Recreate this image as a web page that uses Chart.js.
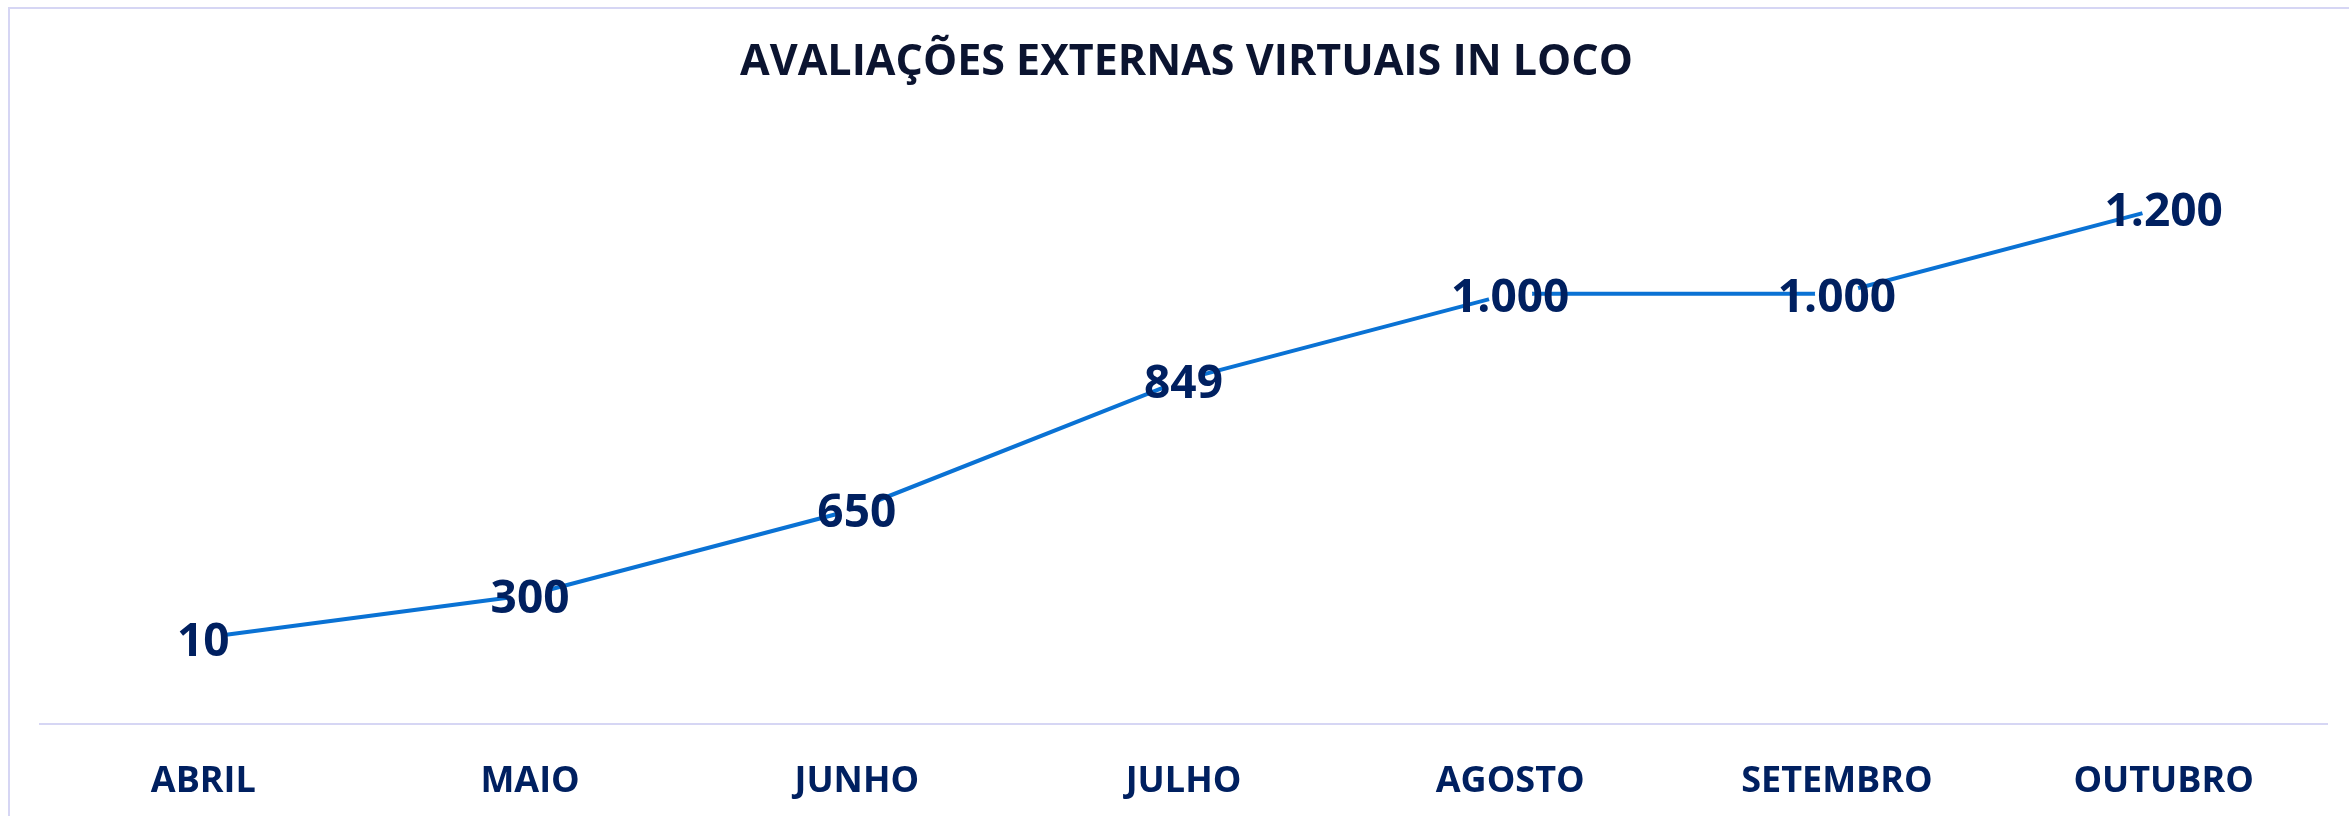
<!DOCTYPE html>
<html>
<head>
<meta charset="utf-8">
<script src="https://cdn.jsdelivr.net/npm/chart.js@4.4.1/dist/chart.umd.min.js"></script>
<style>
  html, body { margin: 0; padding: 0; background: #ffffff; }
  #wrap { position: relative; width: 2349px; height: 816px; }
  canvas { display: block; }
</style>
</head>
<body>
<div id="wrap"><canvas id="c" width="2349" height="816"></canvas></div>
<script>
// ---- data ----
const chartTitle = 'AVALIAÇÕES EXTERNAS VIRTUAIS IN LOCO';
const categories = ['ABRIL', 'MAIO', 'JUNHO', 'JULHO', 'AGOSTO', 'SETEMBRO', 'OUTUBRO'];
// heights of the line's points, read from their positions against the baseline
const plottedValues = [200, 300, 500, 800, 1000, 1000, 1200];
// numbers printed on the points
const labelValues = [10, 300, 650, 849, 1000, 1000, 1200];
const yAxisMin = 0;
const yAxisMax = 1400;

// ---- styles ----
const NAVY = '#002060';
const TITLE_COLOR = '#0b1430';
const LINE_COLOR = '#0a72d4';
const FRAME_COLOR = '#d6d6f4';
const FONT = '"Open Sans", "Noto Sans", "DejaVu Sans", sans-serif';

function fmt(v) {
  return String(v).replace(/\B(?=(\d{3})+(?!\d))/g, '.');
}

const framePlugin = {
  id: 'frame',
  beforeDraw(chart) {
    const ctx = chart.ctx;
    ctx.save();
    ctx.fillStyle = '#ffffff';
    ctx.fillRect(0, 0, chart.width, chart.height);
    ctx.strokeStyle = FRAME_COLOR;
    ctx.lineWidth = 2;
    ctx.beginPath();
    ctx.moveTo(9, chart.height + 2);
    ctx.lineTo(9, 8);
    ctx.lineTo(chart.width + 2, 8);
    ctx.stroke();
    ctx.restore();
  }
};

const pointLabelPlugin = {
  id: 'pointLabels',
  afterDatasetsDraw(chart) {
    const ctx = chart.ctx;
    const meta = chart.getDatasetMeta(0);
    ctx.save();
    ctx.font = 'bold 46px ' + FONT;
    ctx.fillStyle = NAVY;
    ctx.textAlign = 'center';
    ctx.textBaseline = 'alphabetic';
    meta.data.forEach((pt, i) => {
      ctx.fillText(fmt(labelValues[i]), pt.x, pt.y + 18);
    });
    ctx.restore();
  }
};

function build() {
  new Chart(document.getElementById('c'), {
    type: 'line',
    data: {
      labels: categories,
      datasets: [{
        data: plottedValues,
        borderColor: LINE_COLOR,
        borderWidth: 4,
        tension: 0,
        fill: false,
        pointRadius: 22,
        pointHoverRadius: 22,
        pointBackgroundColor: '#ffffff',
        pointBorderColor: 'rgba(0,0,0,0)',
        pointBorderWidth: 0,
        clip: false
      }]
    },
    options: {
      responsive: false,
      animation: false,
      devicePixelRatio: 1,
      events: [],
      layout: { padding: { left: 40, right: 16, top: 14, bottom: -23 } },
      plugins: {
        legend: { display: false },
        tooltip: { enabled: false },
        title: {
          display: true,
          text: chartTitle,
          color: TITLE_COLOR,
          font: { family: FONT, size: 43, weight: 'bold', lineHeight: 1.2 },
          padding: { top: 23, bottom: 33 }
        }
      },
      scales: {
        x: {
          type: 'category',
          offset: true,
          grid: { display: false, drawTicks: false },
          border: { display: true, color: FRAME_COLOR, width: 2 },
          ticks: {
            color: NAVY,
            padding: 36,
            maxRotation: 0,
            autoSkip: false,
            font: { family: FONT, size: 36, weight: 'bold', lineHeight: 1.2 }
          }
        },
        y: {
          display: false,
          min: yAxisMin,
          max: yAxisMax
        }
      }
    },
    plugins: [framePlugin, pointLabelPlugin]
  });
}

Promise.all([
  document.fonts.load('bold 46px "Open Sans"'),
  document.fonts.load('bold 36px "Open Sans"')
]).then(build, build);
</script>
</body>
</html>
